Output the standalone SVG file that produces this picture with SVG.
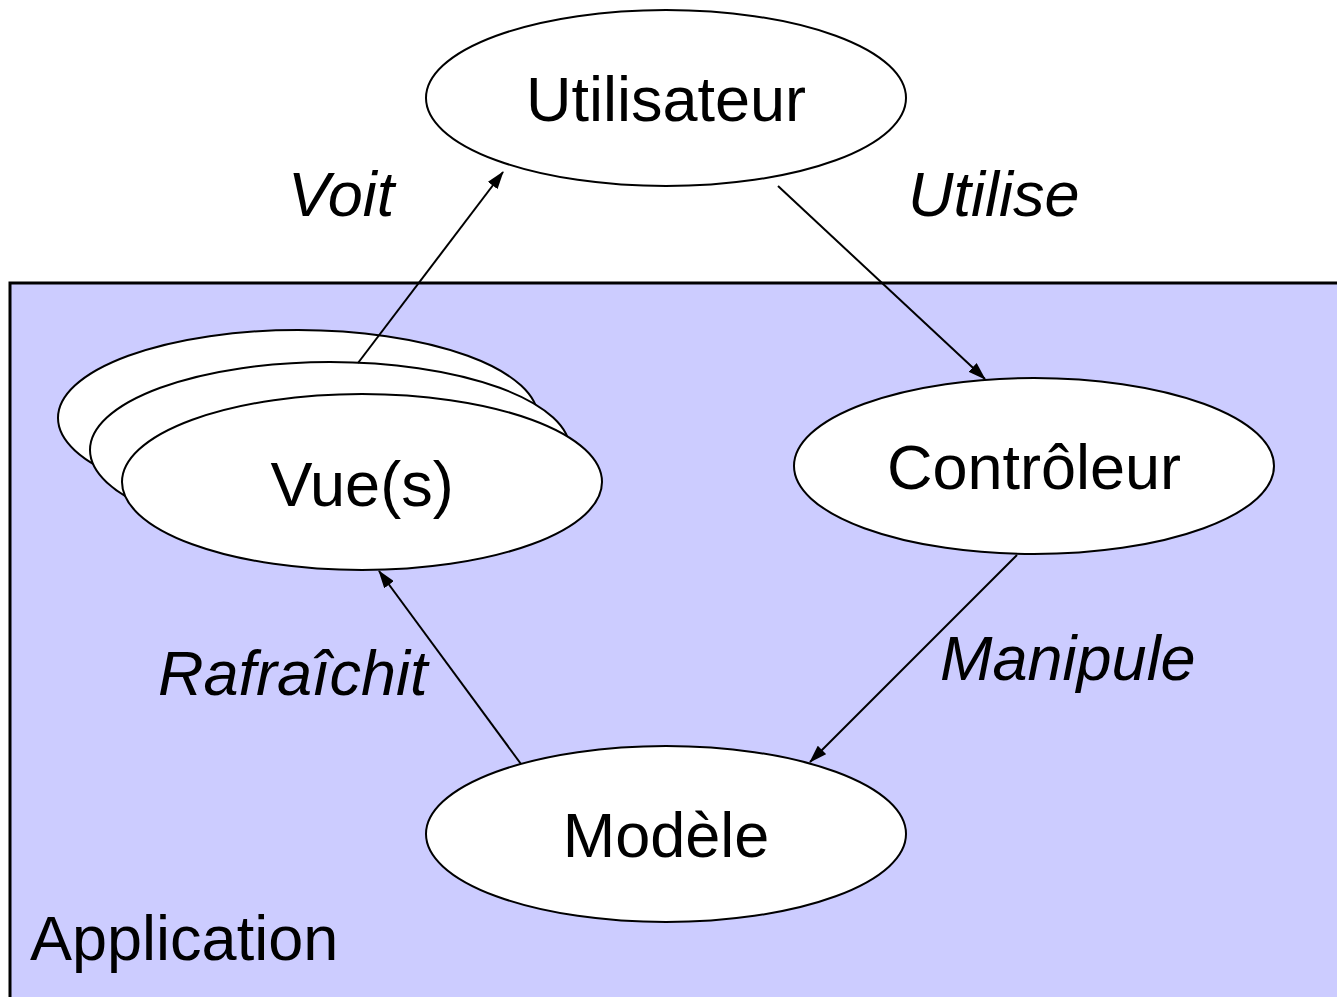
<svg xmlns="http://www.w3.org/2000/svg" width="1337" height="997" viewBox="0 0 1337 997">
<style>
.node{fill:#fff;stroke:#000;stroke-width:2}
.lbl{font-family:"Liberation Sans",Arial,sans-serif;font-size:63px;fill:#000;text-anchor:middle}
.it{font-family:"Liberation Sans",Arial,sans-serif;font-size:63px;font-style:italic;fill:#000}
.conn{stroke:#000;stroke-width:2;fill:none;marker-end:url(#arr)}
</style>
<defs>
<marker id="arr" viewBox="0 0 18 12" refX="17" refY="6" markerWidth="18" markerHeight="12" orient="auto" markerUnits="userSpaceOnUse">
<path d="M0,0 L18,6 L0,12 Z" fill="#000"/>
</marker>
</defs>
<rect width="1337" height="997" fill="#fff"/>
<g id="application">
<rect x="10" y="283" width="1340" height="730" fill="#CCCCFF" stroke="#000" stroke-width="3"/>
<text class="lbl" x="30" y="960" style="text-anchor:start">Application</text>
</g>
<g id="utilisateur">
<ellipse class="node" cx="666" cy="98" rx="240" ry="88"/>
<text class="lbl" x="666" y="121">Utilisateur</text>
</g>
<g id="controleur">
<ellipse class="node" cx="1034" cy="466" rx="240" ry="88"/>
<text class="lbl" x="1034" y="489">Contrôleur</text>
</g>
<g id="modele">
<ellipse class="node" cx="666" cy="834" rx="240" ry="88"/>
<text class="lbl" x="666" y="857">Modèle</text>
</g>
<g id="vues">
<ellipse class="node" cx="298" cy="418" rx="240" ry="88"/>
<ellipse class="node" cx="330" cy="450" rx="240" ry="88"/>
<ellipse class="node" cx="362" cy="482" rx="240" ry="88"/>
<text class="lbl" x="362" y="506">Vue(s)</text>
</g>
<g id="connectors">
<line class="conn" x1="358" y1="363" x2="503" y2="172"/>
<line class="conn" x1="778" y1="186" x2="985" y2="379"/>
<line class="conn" x1="1017" y1="555" x2="810" y2="762"/>
<line class="conn" x1="521" y1="764" x2="379" y2="571"/>
</g>
<g id="labels">
<text class="it" x="288" y="216">Voit</text>
<text class="it" x="908" y="216">Utilise</text>
<text class="it" x="940" y="680">Manipule</text>
<text class="it" x="158" y="695">Rafraîchit</text>
</g>
</svg>
